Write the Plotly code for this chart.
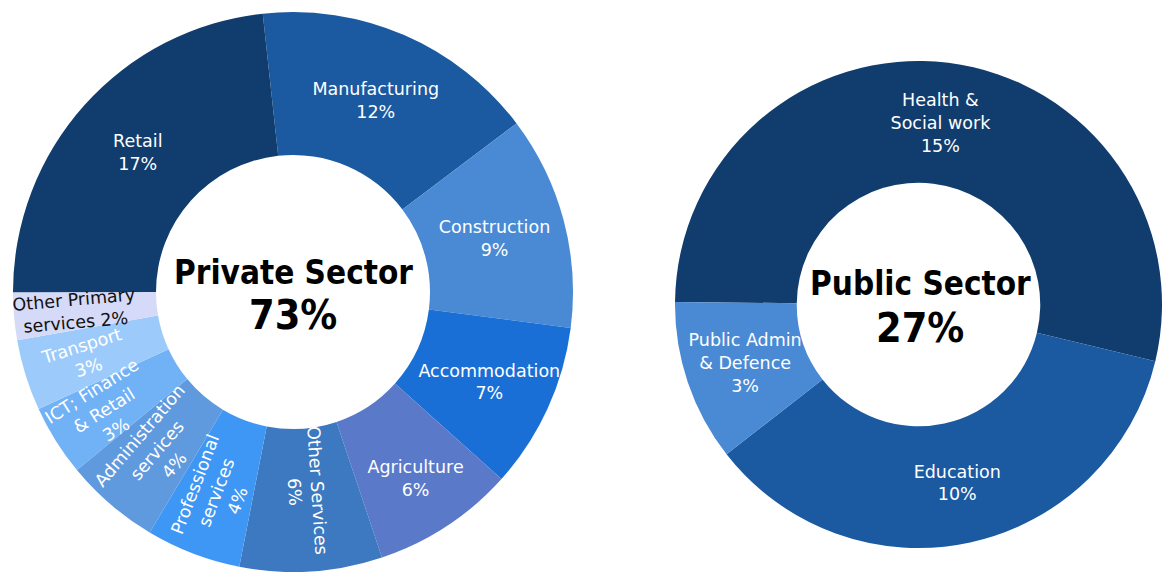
import plotly.graph_objects as go

# Private sector breakdown (share of total workforce, %)
private_labels = [
    "Manufacturing", "Construction", "Accommodation", "Agriculture",
    "Other Services", "Professional<br>services", "Administration<br>services",
    "ICT; Finance<br>& Retail", "Transport", "Other Primary<br>services", "Retail",
]
private_values = [12, 9, 7, 6, 6, 4, 4, 3, 3, 2, 17]
private_colors = [
    "#1b5aa1", "#4a8ad5", "#1a6fd7", "#5b79c9", "#3d79c0", "#3f97f5",
    "#5f9ade", "#71b1f5", "#9ccbfb", "#d5daf8", "#113d6e",
]
private_text_colors = ["white"] * 9 + ["#111111", "white"]
private_sep = ["<br>"] * 9 + [" ", "<br>"]
# slices whose labels run along the radius instead of horizontally
private_radial = [False, False, False, False, True, True, True, True, True, True, False]

# Public sector breakdown (share of total workforce, %)
public_labels = ["Health &<br>Social work", "Education", "Public Admin<br>& Defence"]
public_values = [15, 10, 3]
public_colors = ["#113d6e", "#1b5aa1", "#4a8ad5"]
public_sep = ["<br>"] * 3

# Centre captions
private_title, private_total = "Private Sector", "73%"
public_title, public_total = "Public Sector", "27%"

W, H = 1165, 572
LABEL_SIZE = 17.5
CLEAR = "rgba(0,0,0,0)"

label_font = "DejaVu Sans, Verdana, sans-serif"
caption_font = "DejaVu Sans Condensed, Liberation Sans Narrow, Roboto Condensed, DejaVu Sans, sans-serif"


def slice_text(labels, values, seps):
    return [f"{lab}{sep}{val}%" for lab, val, sep in zip(labels, values, seps)]


def domain_around(cx, cy, r):
    """Pie domain (paper fractions) for a circle centred at (cx, cy) px from the bottom-left."""
    return dict(x=[(cx - r) / W, (cx + r) / W], y=[(cy - r) / H, (cy + r) / H])


PRIV_CX, PRIV_CY, PRIV_R, PRIV_INNER = 293, 280, 280, 137
private_domain = domain_around(PRIV_CX, PRIV_CY, PRIV_R)
# narrower ring used only to seat the radial labels nearer the ring's middle
label_r = 263
private_label_domain = domain_around(PRIV_CX, PRIV_CY, label_r)
public_domain = dict(x=[675 / W, 1162 / W], y=[24 / H, 511 / H])

common = dict(
    labels=private_labels, values=private_values, sort=False,
    direction="clockwise", rotation=-6.2, textinfo="text",
    textposition="inside",
)

fig = go.Figure()

# Private donut slices
fig.add_trace(go.Pie(
    **common,
    text=[""] * len(private_labels),
    marker=dict(colors=private_colors, line=dict(width=0)),
    hole=PRIV_INNER / PRIV_R,
    domain=private_domain,
    hoverinfo="label+value",
))

private_text = slice_text(private_labels, private_values, private_sep)

# Horizontal labels for the wide slices
fig.add_trace(go.Pie(
    **common,
    text=[t if not r else "" for t, r in zip(private_text, private_radial)],
    insidetextorientation="horizontal",
    textfont=dict(family=label_font, size=LABEL_SIZE, color=private_text_colors),
    marker=dict(colors=[CLEAR] * len(private_labels), line=dict(width=0)),
    hole=PRIV_INNER / PRIV_R,
    domain=private_domain,
    hoverinfo="skip",
))

# Radial labels for the narrow slices
fig.add_trace(go.Pie(
    **common,
    text=[t if r else "" for t, r in zip(private_text, private_radial)],
    insidetextorientation="radial",
    textfont=dict(family=label_font, size=LABEL_SIZE, color=private_text_colors),
    marker=dict(colors=[CLEAR] * len(private_labels), line=dict(width=0)),
    hole=PRIV_INNER / label_r,
    domain=private_label_domain,
    hoverinfo="skip",
))

fig.add_trace(go.Pie(
    labels=public_labels,
    values=public_values,
    text=slice_text(public_labels, public_values, public_sep),
    textinfo="text",
    textposition="inside",
    insidetextorientation="horizontal",
    textfont=dict(family=label_font, size=LABEL_SIZE, color="white"),
    marker=dict(colors=public_colors, line=dict(width=0)),
    hole=0.5,
    sort=False,
    direction="clockwise",
    rotation=-89.4,
    domain=public_domain,
    hoverinfo="label+value",
))

captions = [
    (private_title, 293 / W, 0.5228, 33),
    (private_total, 293 / W, 0.4492, 41),
    (public_title, 920 / W, 0.5035, 33),
    (public_total, 920 / W, 0.4266, 41),
]
for txt, x, y, size in captions:
    fig.add_annotation(
        text=f"<b>{txt}</b>", x=x, y=y, xref="paper", yref="paper",
        xanchor="center", yanchor="middle", showarrow=False,
        font=dict(family=caption_font, size=size, color="black"),
    )

fig.update_layout(
    width=W, height=H,
    margin=dict(l=0, r=0, t=0, b=0),
    paper_bgcolor="white",
    plot_bgcolor="white",
    showlegend=False,
    uniformtext=dict(minsize=LABEL_SIZE, mode="show"),
)

fig.write_html("out.html")
